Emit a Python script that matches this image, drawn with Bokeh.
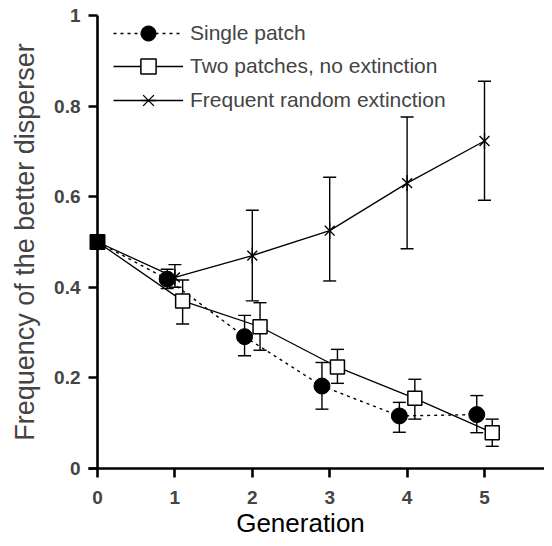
from bokeh.plotting import figure
from bokeh.models import (ColumnDataSource, Whisker, TeeHead, Legend, LegendItem,
                          FixedTicker, Range1d, Label)
from bokeh.embed import file_html
from bokeh.resources import INLINE
import numpy as np

# ---- data ----
generations = [0, 1, 2, 3, 4, 5]
tick_labels_y = {0: "0", 0.2: "0.2", 0.4: "0.4", 0.6: "0.6", 0.8: "0.8", 1: "1"}

single_patch = [0.5, 0.418, 0.291, 0.182, 0.116, 0.119]
single_upper = [0.44, 0.338, 0.234, 0.146, 0.161]
single_lower = [0.397, 0.249, 0.131, 0.080, 0.079]

two_patches = [0.5, 0.370, 0.313, 0.224, 0.155, 0.079]
two_upper = [0.416, 0.366, 0.263, 0.197, 0.109]
two_lower = [0.319, 0.261, 0.188, 0.109, 0.049]

frequent_ext = [0.5, 0.422, 0.470, 0.525, 0.630, 0.723]
freq_upper = [0.450, 0.570, 0.643, 0.776, 0.855]
freq_lower = [0.400, 0.370, 0.414, 0.485, 0.592]

OFFSET = 0.1
FONT = "Liberation Sans"

# ---- layout constants (screen px) ----
W, H = 544, 538
AXIS_PX = 97.0          # where generation 0 sits
PX_PER_GEN = 77.4
TOP, BOTTOM = 15, 468   # y = 1 and y = 0
PX_PER_UNIT_Y = BOTTOM - TOP

g = np.array(generations, dtype=float)
x_single = np.where(g > 0, g - OFFSET, g)
x_two = np.where(g > 0, g + OFFSET, g)
x_freq = g

x_start = -AXIS_PX / PX_PER_GEN
x_end = (W - AXIS_PX) / PX_PER_GEN
y_start = -(H - BOTTOM) / PX_PER_UNIT_Y
y_end = 1 + TOP / PX_PER_UNIT_Y

p = figure(width=W, height=H, output_backend="svg", toolbar_location=None,
           x_range=Range1d(x_start, x_end), y_range=Range1d(y_start, y_end),
           min_border_left=0, min_border_right=0, min_border_top=0,
           min_border_bottom=0)
p.outline_line_color = None
p.xgrid.visible = False
p.ygrid.visible = False

# lines
l_single = p.line(x_single, single_patch, line_color="black", line_width=1.4,
                  line_dash="3 4")
l_two = p.line(x_two, two_patches, line_color="black", line_width=1.3)
l_freq = p.line(x_freq, frequent_ext, line_color="black", line_width=1.3)

# error bars
def add_err(xs, up, lo):
    src = ColumnDataSource(dict(x=list(xs[1:]), upper=up, lower=lo))
    w = Whisker(base="x", upper="upper", lower="lower", source=src,
                dimension="height", line_color="black", line_width=1.4,
                upper_head=TeeHead(size=13, line_width=1.4, line_color="black"),
                lower_head=TeeHead(size=13, line_width=1.4, line_color="black"))
    p.add_layout(w)

add_err(x_single, single_upper, single_lower)
add_err(x_two, two_upper, two_lower)
add_err(x_freq, freq_upper, freq_lower)

# markers (generation > 0)
m_single = p.scatter(x_single[1:], single_patch[1:], marker="circle", size=16,
                     fill_color="black", line_color="black")
m_two = p.scatter(x_two[1:], two_patches[1:], marker="square", size=14,
                  fill_color="white", line_color="black", line_width=1.5)
m_freq_x = p.scatter(x_freq[1:], frequent_ext[1:], marker="x", size=14,
                     line_color="black", line_width=1.4)
m_freq_v = p.scatter(x_freq[1:], frequent_ext[1:], marker="dash", angle=np.pi / 2,
                     size=16, line_color="black", line_width=1.4)
# shared starting point
p.scatter(x_two[:1], two_patches[:1], marker="square", size=15,
          fill_color="black", line_color="black")

# axes (both pinned at 0)
p.xaxis.ticker = FixedTicker(ticks=generations)
p.xaxis.bounds = (-9 / PX_PER_GEN, x_end)
p.xaxis.fixed_location = 0
p.yaxis.ticker = FixedTicker(ticks=list(tick_labels_y.keys()))
p.yaxis.major_label_overrides = {k: v for k, v in tick_labels_y.items()}
p.yaxis.bounds = (0, 1)
p.yaxis.fixed_location = 0
for ax in (p.xaxis[0], p.yaxis[0]):
    ax.axis_line_width = 2.6
    ax.major_tick_line_width = 2.6
    ax.major_tick_out = 9
    ax.major_tick_in = 0
    ax.minor_tick_line_color = None
    ax.major_label_text_font = FONT
    ax.major_label_text_font_style = "bold"
    ax.major_label_text_font_size = "19px"
    ax.axis_label_text_font = FONT
    ax.axis_label_text_font_style = "normal"
    ax.axis_label_text_font_size = "27px"
p.yaxis.axis_label = "Frequency of the better disperser"
p.xaxis.major_label_standoff = 13
p.yaxis.major_label_standoff = 8
p.yaxis.axis_label_standoff = 11

p.add_layout(Label(x=300, y=H - 522, x_units="screen", y_units="screen",
                   text="Generation", text_align="center", text_baseline="middle",
                   text_font=FONT, text_font_size="26px", text_color="black"))

GH = 38
items = [
    ("Single patch", [l_single, m_single], 33),
    ("Two patches, no extinction", [l_two, m_two], 66),
    ("Frequent random extinction", [l_freq, m_freq_x, m_freq_v], 99.5),
]
for label, rends, cy in items:
    leg = Legend(items=[LegendItem(label=label, renderers=rends)],
                 location=(113, H - (cy - GH / 2) - GH),
                 padding=0, margin=0, spacing=0, glyph_width=70,
                 glyph_height=GH, label_height=GH, label_standoff=7,
                 label_text_font=FONT, label_text_font_size="21px",
                 border_line_color=None, background_fill_alpha=0)
    p.add_layout(leg)

open("out.html", "w").write(file_html(p, INLINE))
